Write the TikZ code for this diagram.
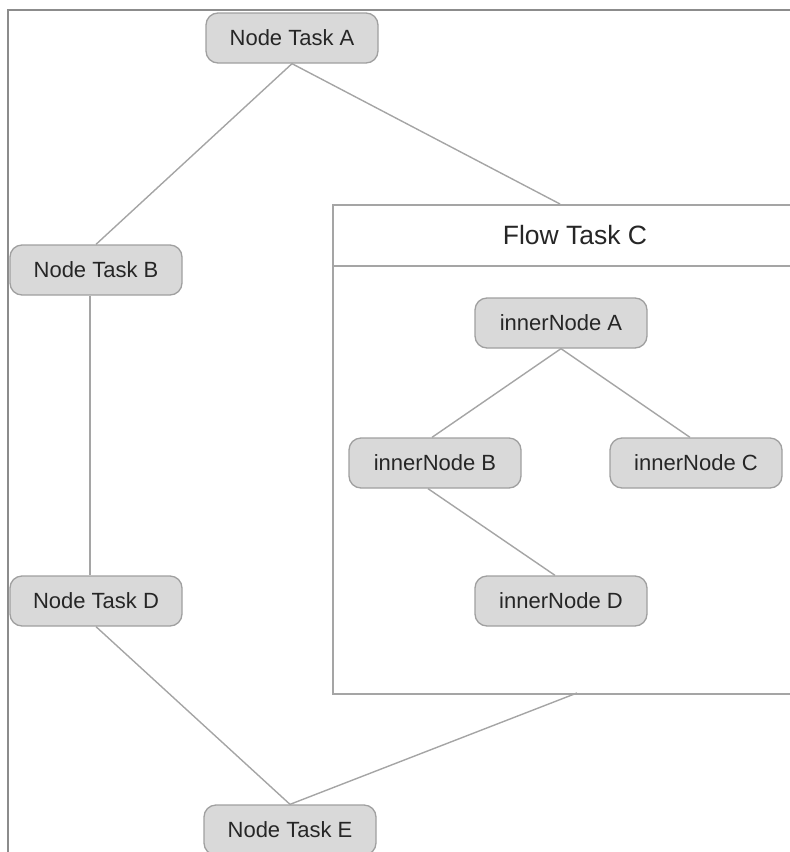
\documentclass[tikz,border=0pt]{standalone}
\usepackage{fontspec}
\setmainfont{Liberation Sans}
\begin{document}
\begin{tikzpicture}[x=1pt,y=-1pt,
  task/.style={draw=nodeborder, fill=nodefill, line width=1.3pt, rounded corners=12pt,
    minimum width=172pt, minimum height=50pt, inner sep=0pt, font=\fontsize{22}{26}\selectfont, text=black!85},
  link/.style={draw=linegray, line width=1.4pt},
  frame/.style={draw=framegray, line width=1.6pt}]
\definecolor{nodefill}{HTML}{D9D9D9}
\definecolor{nodeborder}{HTML}{A0A0A0}
\definecolor{linegray}{HTML}{A5A5A5}
\definecolor{framegray}{HTML}{8C8C8C}
\useasboundingbox (0,0) rectangle (790,852);

% outer canvas border (open to the right and bottom)
\draw[frame] (8,860) -- (8,10) -- (800,10);

% flow container with its header band
\node[draw=linegray, line width=1.6pt, fill=white, minimum width=486pt, minimum height=489pt, inner sep=0pt, anchor=north west] (flow) at (332,204) {};
\draw[draw=linegray, line width=1.4pt] (332,266) -- (820,266);
\node[font=\fontsize{26.5}{30}\selectfont, text=black!85] (flowtitle) at (575,235) {Flow Task C};
\coordinate (ftop) at (560,204);
\coordinate (fbot) at (577,693);

% top-level tasks
\node[task] (A) at (292,38) {Node Task A};
\node[task] (B) at (96,270) {Node Task B};
\node[task] (D) at (96,601) {Node Task D};
\node[task] (E) at (290,830) {Node Task E};

% inner tasks
\node[task] (iA) at (561,323) {innerNode A};
\node[task] (iB) at (435,463) {innerNode B};
\node[task] (iC) at (696,463) {innerNode C};
\node[task] (iD) at (561,601) {innerNode D};

% connectors
\draw[link] (A.south) -- (B.north);
\draw[link] (A.south) -- (ftop);
\draw[link] (B.south -| 90,0) -- (D.north -| 90,0);
\draw[link] (D.south) -- (E.north);
\draw[link] (E.north) -- (fbot);
\draw[link] (iA.south) -- ([xshift=-3pt]iB.north);
\draw[link] (iA.south) -- ([xshift=-6pt]iC.north);
\draw[link] ([xshift=-7pt]iB.south) -- ([xshift=-6pt]iD.north);
\end{tikzpicture}
\end{document}
